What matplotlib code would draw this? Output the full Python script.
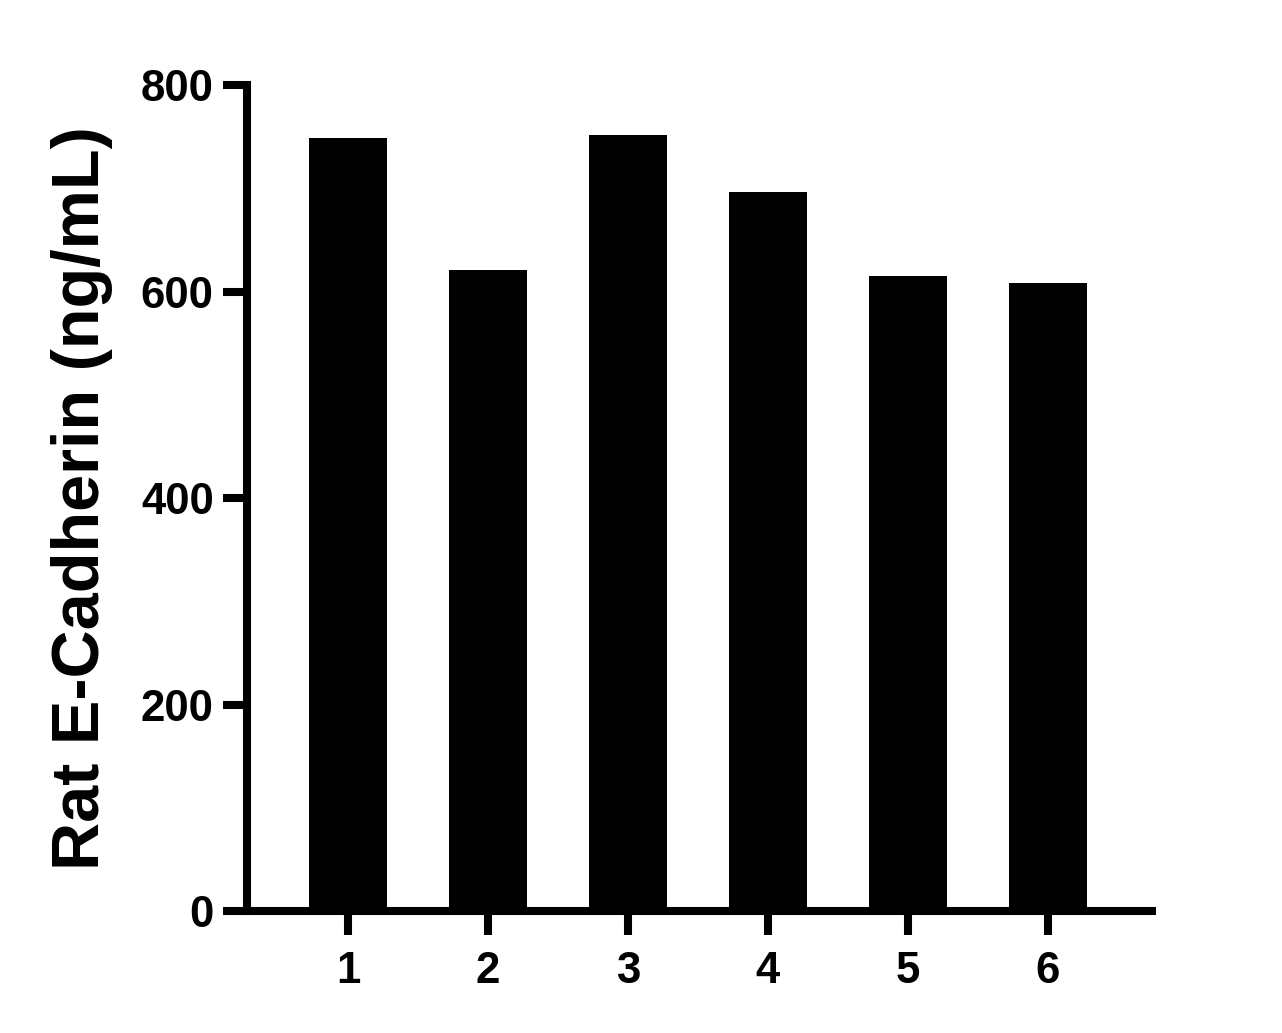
import matplotlib
matplotlib.use("Agg")
from matplotlib import pyplot as plt

samples = ["1", "2", "3", "4", "5", "6"]
values = [749, 621, 752, 696, 615, 608]
yticks = [0, 200, 400, 600, 800]

plt.rcParams['font.family'] = ['Liberation Sans', 'DejaVu Sans']
plt.rcParams['font.weight'] = 'bold'

fig = plt.figure(figsize=(12.82, 10.33), dpi=100)
ax = fig.add_axes([0.1927, 0.1181, 0.7059, 0.7996])

x = list(range(1, len(samples) + 1))
ax.bar(x, values, width=0.557, color='black', edgecolor='none')

ax.set_xlim(0.279, 6.743)
ax.set_ylim(0, 800)
ax.set_xticks(x)
ax.set_xticklabels(samples)
ax.set_yticks(yticks)

lw = 5.8
for side in ['top', 'right']:
    ax.spines[side].set_visible(False)
for side in ['left', 'bottom']:
    ax.spines[side].set_linewidth(lw)
    ax.spines[side].set_capstyle('projecting')

ax.tick_params(axis='both', length=17, width=lw, labelsize=31.5, color='black')
ax.tick_params(axis='x', pad=12)
ax.tick_params(axis='y', pad=7)
for lab in ax.get_xticklabels() + ax.get_yticklabels():
    lab.set_fontweight('bold')

ax.set_ylabel("Rat E-Cadherin (ng/mL)", fontsize=48, fontweight='bold', labelpad=20)

fig.savefig("out.png", dpi=100)
